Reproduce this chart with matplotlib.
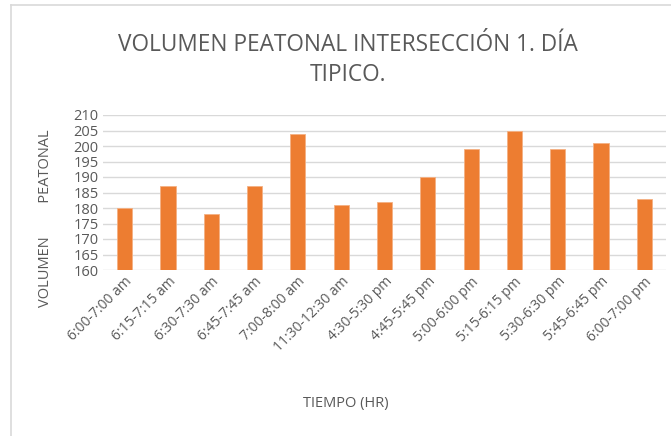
import matplotlib.pyplot as plt
from matplotlib.lines import Line2D

# datos
horarios = ["6:00-7:00 am", "6:15-7:15 am", "6:30-7:30 am", "6:45-7:45 am",
            "7:00-8:00 am", "11:30-12:30 am", "4:30-5:30 pm", "4:45-5:45 pm",
            "5:00-6:00 pm", "5:15-6:15 pm", "5:30-6:30 pm", "5:45-6:45 pm",
            "6:00-7:00 pm"]
volumen = [180, 187, 178, 187, 204, 181, 182, 190, 199, 205, 199, 201, 183]
y_ticks = list(range(160, 215, 5))

plt.rcParams['font.family'] = ['Open Sans', 'DejaVu Sans']
gris = '#595959'

fig = plt.figure(figsize=(6.71, 4.36), dpi=100)
ax = fig.add_axes([103/671, 1-270/436, 563/671, 155/436])

x = range(len(horarios))
ax.bar(x, volumen, width=0.35, color='#ED7D31', edgecolor='#F4B183', linewidth=0.6, zorder=3)

ax.set_ylim(160, 210)
ax.set_xlim(-0.5, len(horarios) - 0.5)
ax.set_yticks(y_ticks)
ax.set_yticklabels([str(v) for v in y_ticks], fontsize=10.5, color=gris)
ax.set_xticks(list(x))
ax.set_xticklabels(horarios, rotation=45, ha='right', rotation_mode='anchor',
                   fontsize=10, color=gris)
ax.tick_params(axis='both', length=0, pad=3)
ax.grid(axis='y', color='#D9D9D9', linewidth=1, zorder=0)
for s in ax.spines.values():
    s.set_visible(False)

fig.text(46/671, 1-218/436, "VOLUMEN         PEATONAL", rotation=90, ha='center', va='center',
         fontsize=10.5, color=gris)
fig.text(0.5 + 10/671, 1-403/436, "TIEMPO (HR)", ha='center', va='center',
         fontsize=10.5, color=gris)

fig.text(0.5 + 12/671, 1-45/436, "VOLUMEN PEATONAL INTERSECCIÓN 1. DÍA", ha='center', va='center',
         fontsize=16.3, color=gris)
fig.text(0.5 + 12/671, 1-75/436, "TIPICO.", ha='center', va='center', fontsize=16.3, color=gris)

# borde del gráfico
fig.add_artist(Line2D([11/671, 11/671], [0, 1-5/436], transform=fig.transFigure,
                      color='#D9D9D9', linewidth=1.2))
fig.add_artist(Line2D([11/671, 1], [1-5/436, 1-5/436], transform=fig.transFigure,
                      color='#D9D9D9', linewidth=1.2))

fig.savefig("out.png", dpi=100)
